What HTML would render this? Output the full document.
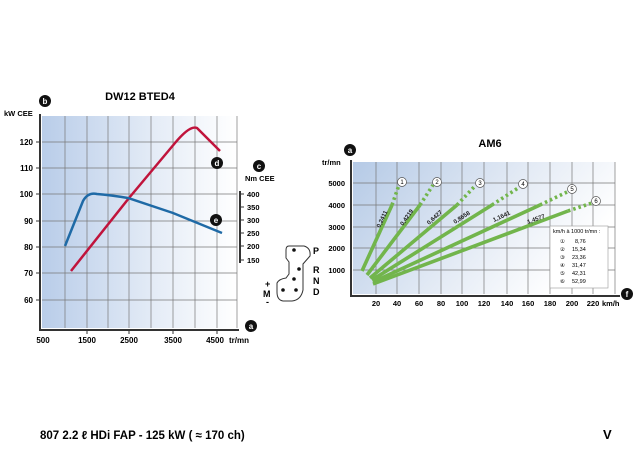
<!DOCTYPE html>
<html><head><meta charset="utf-8"><style>
body{margin:0;background:#fff;}
svg{display:block;font-family:"Liberation Sans",sans-serif;font-weight:bold;}
</style></head><body>
<svg width="640" height="451" viewBox="0 0 640 451">
<defs>
<linearGradient id="g1" x1="0" x2="1" y1="0" y2="0"><stop offset="0" stop-color="#b9cde9"/><stop offset="0.6" stop-color="#e6edf7"/><stop offset="1" stop-color="#ffffff"/></linearGradient>
<linearGradient id="g2" x1="0" x2="1" y1="0" y2="0.4"><stop offset="0" stop-color="#b5cae6"/><stop offset="0.6" stop-color="#e4ebf5"/><stop offset="1" stop-color="#ffffff"/></linearGradient>
</defs>
<text x="140" y="100" font-size="11" text-anchor="middle">DW12 BTED4</text>
<rect x="42" y="116" width="195" height="212" fill="url(#g1)"/>
<g stroke="#777" stroke-width="0.7">
<line x1="65" y1="116" x2="65" y2="328"/><line x1="87" y1="116" x2="87" y2="328"/><line x1="108" y1="116" x2="108" y2="328"/><line x1="129" y1="116" x2="129" y2="328"/><line x1="151" y1="116" x2="151" y2="328"/><line x1="173" y1="116" x2="173" y2="328"/><line x1="195" y1="116" x2="195" y2="328"/><line x1="217" y1="116" x2="217" y2="328"/><line x1="237" y1="116" x2="237" y2="328"/>
<line x1="42" y1="142" x2="237" y2="142"/><line x1="42" y1="168" x2="237" y2="168"/><line x1="42" y1="194" x2="237" y2="194"/><line x1="42" y1="221" x2="237" y2="221"/><line x1="42" y1="247" x2="237" y2="247"/><line x1="42" y1="273" x2="237" y2="273"/><line x1="42" y1="300" x2="237" y2="300"/>
</g>
<g stroke="#333" stroke-width="2"><line x1="40" y1="114" x2="40" y2="331"/><line x1="39" y1="330" x2="239" y2="330"/></g>
<g stroke="#333" stroke-width="1"><line x1="36" y1="142" x2="40" y2="142"/><line x1="36" y1="168" x2="40" y2="168"/><line x1="36" y1="194" x2="40" y2="194"/><line x1="36" y1="221" x2="40" y2="221"/><line x1="36" y1="247" x2="40" y2="247"/><line x1="36" y1="273" x2="40" y2="273"/><line x1="36" y1="300" x2="40" y2="300"/>
<line x1="87" y1="330" x2="87" y2="334"/><line x1="129" y1="330" x2="129" y2="334"/><line x1="173" y1="330" x2="173" y2="334"/><line x1="217" y1="330" x2="217" y2="334"/></g>
<g font-size="8" text-anchor="end"><text x="33" y="145">120</text><text x="33" y="171">110</text><text x="33" y="197">100</text><text x="33" y="224">90</text><text x="33" y="250">80</text><text x="33" y="276">70</text><text x="33" y="303">60</text></g>
<g font-size="8" text-anchor="middle"><text x="43" y="343">500</text><text x="87" y="343">1500</text><text x="129" y="343">2500</text><text x="173" y="343">3500</text><text x="215" y="343">4500</text></g>
<text x="229" y="343" font-size="8">tr/mn</text>
<text x="4" y="116" font-size="7.5">kW CEE</text>
<path d="M71,271 L129,198 L175,143 Q190,125 197,128 L220,151" fill="none" stroke="#c0143c" stroke-width="2.5"/>
<path d="M65,246 L83,201 Q88,192 97,194 Q110,195 128,198 L173,213 L222,233" fill="none" stroke="#1f6aa6" stroke-width="2.5"/>
<line x1="240" y1="191" x2="240" y2="263" stroke="#333" stroke-width="2"/>
<g stroke="#333" stroke-width="1"><line x1="240" y1="194" x2="244" y2="194"/><line x1="240" y1="207" x2="244" y2="207"/><line x1="240" y1="220" x2="244" y2="220"/><line x1="240" y1="233" x2="244" y2="233"/><line x1="240" y1="246" x2="244" y2="246"/><line x1="240" y1="260" x2="244" y2="260"/></g>
<g font-size="7.5"><text x="247" y="197">400</text><text x="247" y="210">350</text><text x="247" y="223">300</text><text x="247" y="236">250</text><text x="247" y="249">200</text><text x="247" y="263">150</text></g>
<text x="245" y="181" font-size="7.5">Nm CEE</text>
<g font-size="8" fill="#fff" text-anchor="middle">
<circle cx="45" cy="101" r="6" fill="#111"/><text x="45" y="104">b</text>
<circle cx="259" cy="166" r="6" fill="#111"/><text x="259" y="169">c</text>
<circle cx="217" cy="163" r="6" fill="#111"/><text x="217" y="166">d</text>
<circle cx="216" cy="220" r="6" fill="#111"/><text x="216" y="223">e</text>
<circle cx="251" cy="326" r="6" fill="#111"/><text x="251" y="329">a</text>
<circle cx="350" cy="150" r="6" fill="#111"/><text x="350" y="153">a</text>
<circle cx="627" cy="294" r="6" fill="#111"/><text x="627" y="297">f</text>
</g>
<path d="M289,246 L304,246 Q311,248 310,256 L303,264 L303,290 Q301,300 292,301 L283,301 Q277,300 277,292 L277,283 Q279,279 286,278 L289,274 L289,262 L286,258 L286,250 Q286,246 289,246 Z" fill="none" stroke="#333" stroke-width="1"/>
<g fill="#111"><circle cx="294" cy="250" r="1.8"/><circle cx="299" cy="269" r="1.8"/><circle cx="294" cy="279" r="1.8"/><circle cx="296" cy="290" r="1.8"/><circle cx="283" cy="290" r="1.8"/></g>
<g font-size="9"><text x="313" y="254">P</text><text x="313" y="273">R</text><text x="313" y="284">N</text><text x="313" y="295">D</text>
<text x="265" y="287">+</text><text x="263" y="297">M</text><text x="266" y="305">-</text></g>
<text x="490" y="147" font-size="11" text-anchor="middle">AM6</text>
<rect x="353" y="162" width="262" height="132" fill="url(#g2)"/>
<g stroke="#777" stroke-width="0.7">
<line x1="376" y1="162" x2="376" y2="294"/><line x1="397" y1="162" x2="397" y2="294"/><line x1="419" y1="162" x2="419" y2="294"/><line x1="441" y1="162" x2="441" y2="294"/><line x1="462" y1="162" x2="462" y2="294"/><line x1="484" y1="162" x2="484" y2="294"/><line x1="507" y1="162" x2="507" y2="294"/><line x1="528" y1="162" x2="528" y2="294"/><line x1="550" y1="162" x2="550" y2="294"/><line x1="572" y1="162" x2="572" y2="294"/><line x1="593" y1="162" x2="593" y2="294"/><line x1="615" y1="162" x2="615" y2="294"/>
<line x1="353" y1="183" x2="615" y2="183"/><line x1="353" y1="205" x2="615" y2="205"/><line x1="353" y1="227" x2="615" y2="227"/><line x1="353" y1="248" x2="615" y2="248"/><line x1="353" y1="270" x2="615" y2="270"/>
</g>
<g stroke="#333" stroke-width="2"><line x1="351" y1="160" x2="351" y2="297"/><line x1="350" y1="296" x2="620" y2="296"/></g>
<g font-size="7.5" text-anchor="end"><text x="345" y="186">5000</text><text x="345" y="208">4000</text><text x="345" y="230">3000</text><text x="345" y="251">2000</text><text x="345" y="273">1000</text></g>
<text x="322" y="165" font-size="7.5">tr/mn</text>
<g font-size="7.5" text-anchor="middle"><text x="376" y="306">20</text><text x="397" y="306">40</text><text x="419" y="306">60</text><text x="441" y="306">80</text><text x="462" y="306">100</text><text x="484" y="306">120</text><text x="507" y="306">140</text><text x="528" y="306">160</text><text x="550" y="306">180</text><text x="572" y="306">200</text><text x="593" y="306">220</text></g>
<text x="602" y="306" font-size="7.5">km/h</text>
<g stroke="#72b54c" stroke-width="3.6" fill="none">
<line x1="362" y1="271" x2="392" y2="205"/><line x1="367" y1="275" x2="420" y2="205"/><line x1="370" y1="278" x2="457" y2="205"/><line x1="372" y1="280" x2="492" y2="205"/><line x1="373" y1="282" x2="540" y2="205"/><line x1="373" y1="284" x2="568" y2="211"/>
</g>
<g stroke="#72b54c" stroke-width="3.6" stroke-dasharray="2.5 3" fill="none">
<line x1="392" y1="205" x2="399" y2="185"/><line x1="420" y1="205" x2="433" y2="185"/><line x1="457" y1="205" x2="475" y2="186"/><line x1="492" y1="205" x2="518" y2="188"/><line x1="540" y1="205" x2="567" y2="192"/><line x1="568" y1="211" x2="592" y2="203"/>
</g>
<g fill="#fff" stroke="#555" stroke-width="0.7"><circle cx="402" cy="182" r="4.5"/><circle cx="437" cy="182" r="4.5"/><circle cx="480" cy="183" r="4.5"/><circle cx="523" cy="184" r="4.5"/><circle cx="572" cy="189" r="4.5"/><circle cx="596" cy="201" r="4.5"/></g>
<g font-size="6" font-weight="normal" text-anchor="middle"><text x="402" y="184">1</text><text x="437" y="184">2</text><text x="480" y="185">3</text><text x="523" y="186">4</text><text x="572" y="191">5</text><text x="596" y="203">6</text></g>
<g font-size="6" fill="#222">
<text transform="translate(380,228) rotate(-65)">0,2411</text>
<text transform="translate(403,226) rotate(-55)">0,4219</text>
<text transform="translate(429,225) rotate(-42)">0,6427</text>
<text transform="translate(455,224) rotate(-33)">0,8658</text>
<text transform="translate(494,222) rotate(-25)">1,1641</text>
<text transform="translate(528,224) rotate(-20)">1,4577</text>
</g>
<rect x="550" y="226" width="58" height="62" fill="#fff" stroke="#999" stroke-width="0.6"/>
<g font-size="5.5" font-weight="normal"><text x="553" y="233">km/h à 1000 tr/mn :</text>
<text x="560" y="243">①</text><text x="575" y="243">8,76</text>
<text x="560" y="251">②</text><text x="572" y="251">15,34</text>
<text x="560" y="259">③</text><text x="572" y="259">23,36</text>
<text x="560" y="267">④</text><text x="572" y="267">31,47</text>
<text x="560" y="275">⑤</text><text x="572" y="275">42,31</text>
<text x="560" y="283">⑥</text><text x="572" y="283">52,99</text></g>
<text x="40" y="439" font-size="11.5">807 2.2 ℓ HDi FAP - 125 kW ( ≈ 170 ch)</text>
<text x="603" y="439" font-size="13">V</text>
</svg>
</body></html>
